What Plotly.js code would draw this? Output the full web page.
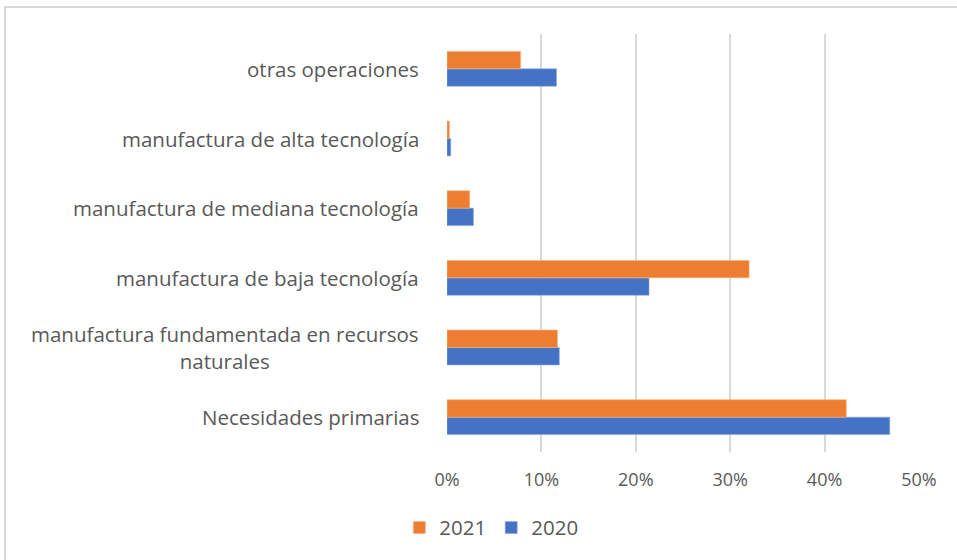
<!DOCTYPE html>
<html>
<head>
<meta charset="utf-8">
<script src="https://cdn.plot.ly/plotly-3.0.1.min.js"></script>
<style>html,body{margin:0;padding:0;background:#fff;}#chart{width:957px;height:560px;}</style>
</head>
<body>
<div id="chart"></div>
<script>
// Categories, bottom to top
const categories = [
  "Necesidades primarias",
  "manufactura fundamentada en recursos<br>naturales",
  "manufactura de baja tecnología",
  "manufactura de mediana tecnología",
  "manufactura de alta tecnología",
  "otras operaciones"
];
const values2020 = [0.469, 0.119, 0.214, 0.028, 0.004, 0.116];
const values2021 = [0.423, 0.117, 0.320, 0.024, 0.0025, 0.078];
const seriesNames = ["2020", "2021"];
const tickValues = [0, 0.1, 0.2, 0.3, 0.4, 0.5];

const gray = "#595959";
const family = "Open Sans, Liberation Sans, sans-serif";
const tickFont = {family: family, size: 18, color: gray};
const catFont = {family: family, size: 20.5, color: gray};
const legendFont = {family: family, size: 20.5, color: gray};

const traces = [
  {type: "bar", orientation: "h", name: seriesNames[0], y: categories, x: values2020,
   marker: {color: "#4472C4", line: {color: "#8faadc", width: 0.6}}, hoverinfo: "x+y"},
  {type: "bar", orientation: "h", name: seriesNames[1], y: categories, x: values2021,
   marker: {color: "#ED7D31", line: {color: "#f4b183", width: 0.6}}, hoverinfo: "x+y"}
];

const annotations = categories.map(c => ({
  xref: "paper", yref: "y", x: 0, y: c, xshift: -26,
  xanchor: "right", yanchor: "middle", align: "center",
  text: c, showarrow: false, font: catFont
}));

const layout = {
  width: 957, height: 560,
  margin: {l: 447, r: 38, t: 34, b: 108},
  paper_bgcolor: "#fff", plot_bgcolor: "#fff",
  barmode: "group", bargap: 0.5, bargroupgap: 0,
  font: tickFont,
  xaxis: {
    range: [0, 0.5], tickvals: tickValues, tickformat: ".0%",
    showgrid: true, gridcolor: "#d9d9d9", gridwidth: 2,
    zeroline: false, showline: false, ticks: "outside", ticklen: 11,
    tickcolor: "rgba(0,0,0,0)", tickfont: tickFont, fixedrange: true
  },
  yaxis: {
    type: "category", showticklabels: false, showgrid: false, zeroline: false,
    showline: false, fixedrange: true
  },
  legend: {
    orientation: "h", x: -0.101, xanchor: "left", y: -0.181, yanchor: "middle",
    traceorder: "reversed", font: legendFont, itemwidth: 30
  },
  annotations: annotations,
  shapes: [{
    type: "rect", xref: "paper", yref: "paper",
    x0: -0.9364, x1: 1.1, y0: -0.4, y1: 1.0646,
    line: {color: "#d9d9d9", width: 2}, fillcolor: "rgba(0,0,0,0)", layer: "below"
  }]
};

Plotly.newPlot("chart", traces, layout, {displayModeBar: false, staticPlot: true});
</script>
</body>
</html>
